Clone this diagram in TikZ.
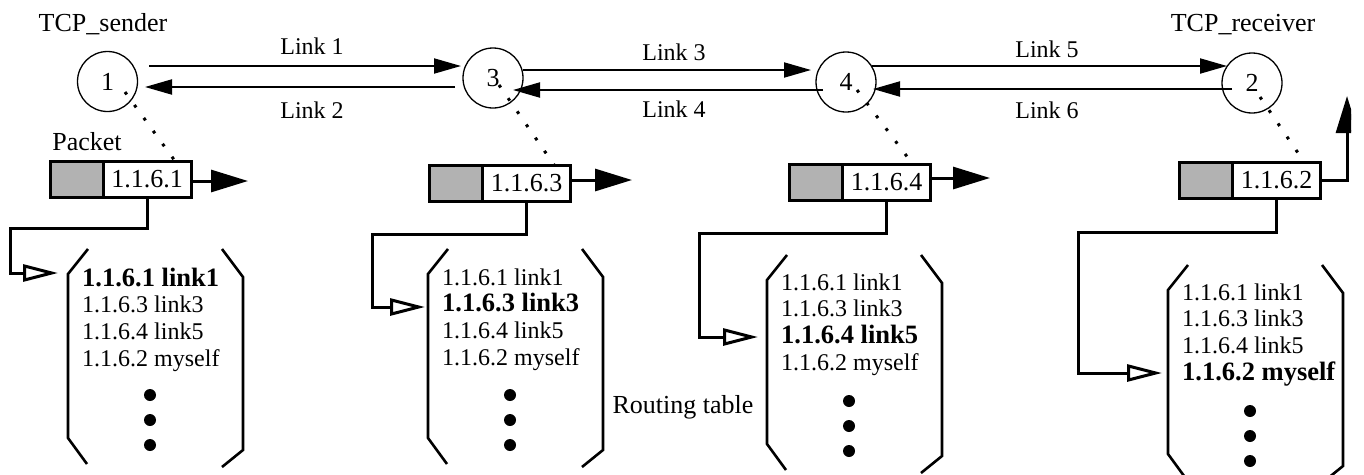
\documentclass[tikz,border=0pt]{standalone}
\usepackage{fontspec}
\setmainfont{Liberation Serif}
\usetikzlibrary{arrows.meta}
\definecolor{pktgray}{gray}{0.7}

% One routing table: #1 left x, #2 bracket top, #3 first baseline,
% #4 name prefix, #5 row printed in bold
\newcommand\routetable[5]{%
  \draw[bracket] (#1+20,#2) -- (#1,#2+25) -- (#1,#2+189) -- (#1+19,#2+215);
  \draw[bracket] (#1+154,#2) -- (#1+175,#2+28) -- (#1+175,#2+201) -- (#1+154,#2+218);
  \foreach \entry [count=\i] in {1.1.6.1 link1,1.1.6.3 link3,1.1.6.4 link5,1.1.6.2 myself}
    \node[rowtext] (#4-\i) at ({#1+14},{#3+26.7*(\i-1)})
      {\ifnum\i=#5\fontsize{26.5}{30}\selectfont\bfseries\fi\entry};
  \foreach \k in {0,1,2}
    \fill ({#1+82},{#2+146+25*\k}) circle (6);
}

\begin{document}
\begin{tikzpicture}[x=1pt,y=-1pt,
  font=\fontsize{24}{28}\selectfont,
  big/.style={font=\fontsize{26}{30}\selectfont},
  router/.style={circle,draw,line width=1.3pt,minimum size=60pt,inner sep=0pt,big},
  linkarrow/.style={line width=2pt,-{Triangle[length=27pt,width=15pt]}},
  pktarrow/.style={line width=3pt,-{Triangle[length=37pt,width=22pt]}},
  feed/.style={line width=3pt,-{Triangle[open,length=35pt,width=17pt]}},
  bracket/.style={line width=2.6pt},
  pbox/.style={draw,line width=3pt,minimum height=36pt,inner sep=0pt,outer sep=0pt},
  graybox/.style={pbox,fill=pktgray,minimum width=53pt},
  addrbox/.style={pbox,fill=white,minimum width=88pt,anchor=west,big},
  dotline/.style={line width=3pt,dash pattern=on 3pt off 13pt},
  rowtext/.style={anchor=base west,inner sep=0pt},
  lbl/.style={anchor=base}
]
\useasboundingbox (0,0) rectangle (1364,474);
\fill[white] (0,0) rectangle (1364,474);
\clip (0,0) rectangle (1351,474);

% end hosts and routers
\node[router] (n1) at (107.5,81.5) {1};
\node[router] (n3) at (493,78) {3};
\node[router] (n4) at (846,82) {4};
\node[router] (n2) at (1252,83) {2};
\node[big,lbl] (snd) at (103,31) {TCP\_sender};
\node[big,lbl] (rcv) at (1243,31) {TCP\_receiver};

% links between neighbours
\draw[linkarrow] ([shift={(41.5,-15.5)}]n1.center) -- ([shift={(-32,-12)}]n3.center);
\draw[linkarrow] ([shift={(-38,9)}]n3.center) -- ([shift={(37.5,5.5)}]n1.center);
\draw[linkarrow] ([shift={(30,-8)}]n3.center) -- ([shift={(-35,-12)}]n4.center);
\draw[linkarrow] ([shift={(-23,8)}]n4.center) -- ([shift={(20,12)}]n3.center);
\draw[linkarrow] ([shift={(26,-16)}]n4.center) -- ([shift={(-25,-17)}]n2.center);
\draw[linkarrow] ([shift={(-20,6)}]n2.center) -- ([shift={(27,7)}]n4.center);
\node[lbl] (l1) at (312,54) {Link 1};
\node[lbl] (l2) at (312,118) {Link 2};
\node[lbl] (l3) at (674,60) {Link 3};
\node[lbl] (l4) at (674,117) {Link 4};
\node[lbl] (l5) at (1047,57) {Link 5};
\node[lbl] (l6) at (1047,118) {Link 6};

% packets seen at each node
\node[big,lbl] (pl) at (87,150) {Packet};
\node[graybox] (g1) at (76.5,179) {};
\node[addrbox] (p1) at (g1.east) {1.1.6.1};
\node[graybox] (g3) at (456,183.5) {};
\node[addrbox] (p3) at (g3.east) {1.1.6.3};
\node[graybox] (g4) at (816,182.5) {};
\node[addrbox] (p4) at (g4.east) {1.1.6.4};
\node[graybox] (g2) at (1206,180.5) {};
\node[addrbox] (p2) at (g2.east) {1.1.6.2};

\draw[dotline] ([shift={(17.5,10.5)}]n1.center) -- ([xshift=28pt]p1.north);
\draw[dotline] ([shift={(6,7)}]n3.center) -- ([xshift=28pt]p3.north);
\draw[dotline] ([shift={(11,8)}]n4.center) -- ([xshift=26.5pt]p4.north);
\draw[dotline] ([shift={(8,14)}]n2.center) -- ([xshift=28pt]p2.north);

% forwarding direction
\coordinate (q1) at (248,181);
\coordinate (q3) at (632,180);
\coordinate (q4) at (990,178);
\coordinate (q2) at (1347,96);
\draw[pktarrow] (p1.east |- q1) -- (q1);
\draw[pktarrow] (p3.east |- q3) -- (q3);
\draw[pktarrow] (p4.east |- q4) -- (q4);
\draw[pktarrow] (p2.east) -| (q2);

% routing tables
\routetable{68}{249}{286}{t1}{1}
\routetable{428}{249}{285}{t3}{2}
\routetable{767}{255}{290}{t4}{3}
\routetable{1168}{265}{300}{t2}{4}
\node[big,lbl] (rtl) at (683,413) {Routing table};

% lookup of the destination address
\coordinate (c1) at (10,228);   \coordinate (t1in) at (58,273);
\coordinate (c3) at (372,234);  \coordinate (t3in) at (425,307);
\coordinate (c4) at (699,233);  \coordinate (t4in) at (758,337);
\coordinate (c2) at (1078,232); \coordinate (t2in) at (1162,373);
\draw[feed] (p1.south) |- (c1) |- (t1in);
\draw[feed] (p3.south) |- (c3) |- (t3in);
\draw[feed] (p4.south) |- (c4) |- (t4in);
\draw[feed] (p2.south) |- (c2) |- (t2in);
\end{tikzpicture}
\end{document}
